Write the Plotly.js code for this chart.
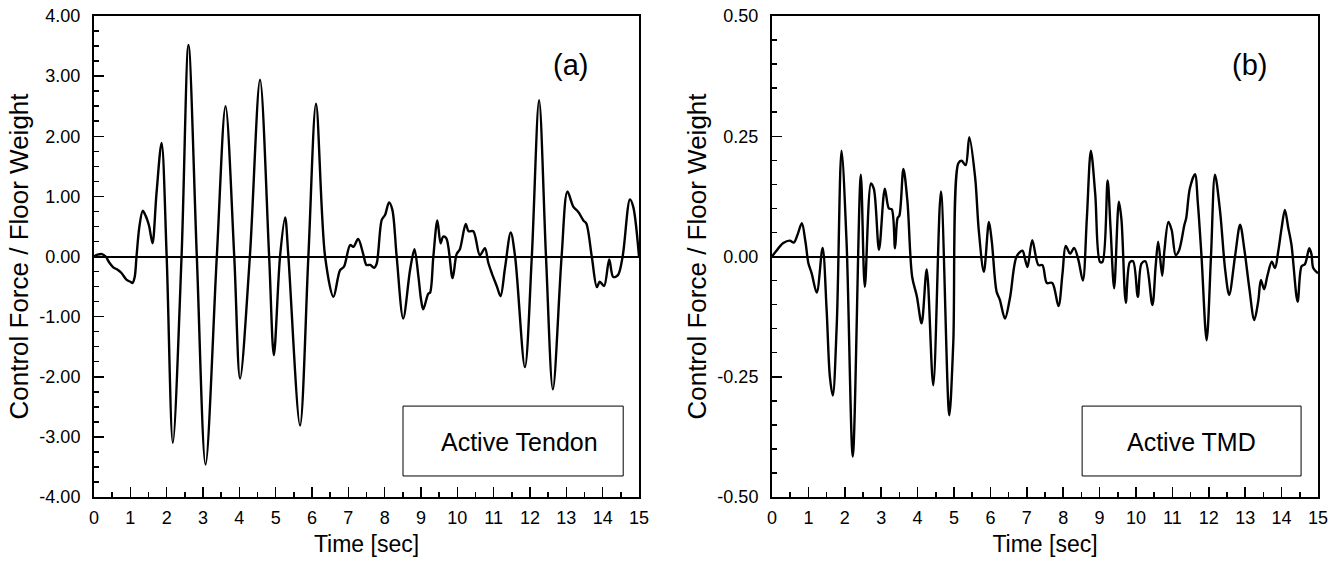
<!DOCTYPE html>
<html>
<head>
<meta charset="utf-8">
<script src="https://cdn.plot.ly/plotly-3.0.1.min.js"></script>
<style>html,body{margin:0;padding:0;background:#fff;}#chart{width:1343px;height:562px;}</style>
</head>
<body>
<div id="chart"></div>
<script>
// Panel (a): Active Tendon
const timeA = [0,0.1,0.22,0.32,0.42,0.53,0.65,0.75,0.9,1.0,1.06,1.12,1.17,1.25,1.34,1.42,1.47,1.52,1.61,1.72,1.86,2.0,2.17,2.41,2.6,2.83,3.07,3.38,3.62,3.86,4.02,4.29,4.57,4.82,4.95,5.12,5.26,5.35,5.67,5.9,6.11,6.36,6.59,6.77,6.88,7.05,7.14,7.27,7.41,7.5,7.6,7.71,7.78,7.92,8.01,8.12,8.21,8.33,8.51,8.7,8.82,8.93,9.0,9.06,9.2,9.25,9.34,9.45,9.54,9.61,9.7,9.87,9.98,10.07,10.23,10.31,10.44,10.62,10.76,10.85,10.95,11.09,11.19,11.31,11.47,11.59,11.86,12.05,12.25,12.44,12.63,12.87,13.03,13.19,13.33,13.47,13.55,13.7,13.84,13.92,14.04,14.18,14.29,14.42,14.55,14.75,14.84,15.0];
const forceA = [0,0.03,0.04,0,-0.1,-0.18,-0.22,-0.27,-0.39,-0.42,-0.44,-0.34,0,0.5,0.76,0.68,0.6,0.5,0.22,1.05,1.89,0,-3.1,0,3.52,0,-3.46,0,2.5,0,-2.03,0,2.94,0,-1.64,0,0.65,0,-2.81,0,2.54,0,-0.67,-0.23,-0.17,0.19,0.16,0.29,0.04,-0.14,-0.14,-0.19,-0.12,0.61,0.69,0.9,0.78,0,-1.03,-0.22,0.12,-0.34,-0.71,-0.88,-0.62,-0.6,0,0.6,0.22,0.33,0.3,-0.36,0.04,0.12,0.54,0.42,0.42,0.02,0.14,-0.1,-0.28,-0.5,-0.66,-0.2,0.4,0,-1.84,0,2.6,0,-2.21,0,1.08,0.83,0.74,0.6,0.55,0,-0.51,-0.42,-0.49,-0.05,-0.34,-0.31,0,0.95,0.83,0];

// Panel (b): Active TMD
const timeB = [0,0.1,0.31,0.49,0.6,0.7,0.82,0.92,1.0,1.09,1.23,1.39,1.5,1.59,1.67,1.78,1.91,2.05,2.22,2.44,2.55,2.72,2.8,2.94,3.1,3.21,3.29,3.38,3.45,3.5,3.61,3.72,3.85,3.98,4.11,4.25,4.43,4.64,4.87,4.98,5.12,5.21,5.32,5.42,5.58,5.68,5.82,5.96,6.04,6.17,6.26,6.4,6.54,6.72,6.88,6.96,7.02,7.15,7.32,7.43,7.55,7.7,7.87,7.98,8.07,8.19,8.3,8.42,8.54,8.65,8.76,8.88,9.01,9.08,9.22,9.3,9.4,9.53,9.6,9.72,9.83,9.92,10.05,10.15,10.26,10.45,10.54,10.61,10.72,10.78,10.89,10.98,11.09,11.18,11.33,11.38,11.48,11.62,11.7,11.8,11.94,12.06,12.17,12.31,12.45,12.56,12.72,12.86,12.98,13.11,13.25,13.36,13.43,13.52,13.61,13.73,13.82,13.91,14.0,14.09,14.18,14.27,14.44,14.55,14.64,14.76,14.82,14.87,15.0];
const forceB = [0,0.01,0.028,0.033,0.029,0.045,0.069,0.03,-0.014,-0.035,-0.075,0.018,-0.11,-0.25,-0.289,-0.14,0.22,0.027,-0.416,0.17,-0.063,0.152,0.14,0.014,0.141,0.1,0.098,0.017,0.08,0.085,0.182,0.115,-0.042,-0.083,-0.139,-0.027,-0.268,0.135,-0.33,-0.18,0.194,0.199,0.19,0.248,0.165,0.055,-0.032,0.072,0.03,-0.073,-0.09,-0.129,-0.085,0,0.012,-0.008,-0.022,0.034,-0.018,-0.018,-0.055,-0.055,-0.103,-0.036,0.022,0.006,0.018,-0.008,-0.05,0.08,0.22,0.13,-0.011,-0.011,0.158,0.06,-0.066,0.114,0.077,-0.096,-0.012,-0.01,-0.084,-0.015,-0.01,-0.101,-0.02,0.031,-0.04,0.012,0.072,0.055,0.003,0.012,0.066,0.08,0.142,0.171,0.11,0,-0.174,0,0.17,0.094,-0.028,-0.08,0,0.066,0.013,-0.064,-0.132,-0.092,-0.049,-0.068,-0.04,-0.011,-0.024,0.012,0.059,0.097,0.061,0.025,-0.094,-0.02,-0.016,0.017,0.005,-0.024,-0.035];

const xTickVals = [0,1,2,3,4,5,6,7,8,9,10,11,12,13,14,15];
const xTickText = ['0','1','2','3','4','5','6','7','8','9','10','11','12','13','14','15'];
const yTickValsA = [-4,-3,-2,-1,0,1,2,3,4];
const yTickTextA = ['-4.00','-3.00','-2.00','-1.00','0.00','1.00','2.00','3.00','4.00'];
const yTickValsB = [-0.5,-0.25,0,0.25,0.5];
const yTickTextB = ['-0.50','-0.25','0.00','0.25','0.50'];
const yTitle = 'Control Force / Floor Weight';
const xTitle = 'Time [sec]';
const panelLabels = ['(a)', '(b)'];
const boxLabels = ['Active Tendon', 'Active TMD'];

const FONT = 'Liberation Sans, Arial, Helvetica, sans-serif';

const traces = [
  {x: timeA, y: forceA, xaxis: 'x', yaxis: 'y', type: 'scatter', mode: 'lines',
   line: {color: '#000', width: 2.4, shape: 'spline', smoothing: 0.9}, hoverinfo: 'skip'},
  {x: timeB, y: forceB, xaxis: 'x2', yaxis: 'y2', type: 'scatter', mode: 'lines',
   line: {color: '#000', width: 2.4, shape: 'spline', smoothing: 0.9}, hoverinfo: 'skip'}
];

function xAxis(domain, anchor) {
  return {
    domain: domain, anchor: anchor, range: [0, 15],
    tickmode: 'array', tickvals: xTickVals, ticktext: xTickText,
    ticks: 'inside', ticklen: 10, tickwidth: 1.5, tickcolor: '#000',
    minor: {dtick: 0.5, tick0: 0, ticks: 'inside', ticklen: 5, tickwidth: 1.5, tickcolor: '#000', showgrid: false},
    showline: true, linewidth: 2, linecolor: '#000', mirror: true,
    showgrid: false, zeroline: false,
    tickfont: {family: FONT, size: 18, color: '#000'},
    ticklabelstandoff: 3,
    title: {text: xTitle, font: {family: FONT, size: 23, color: '#000'}, standoff: 9},
    fixedrange: true
  };
}
function yAxis(domain, anchor, range, vals, text, minorDtick) {
  return {
    domain: domain, anchor: anchor, range: range,
    tickmode: 'array', tickvals: vals, ticktext: text,
    ticks: 'inside', ticklen: 10, tickwidth: 1.5, tickcolor: '#000',
    minor: {dtick: minorDtick, tick0: 0, ticks: 'inside', ticklen: 5, tickwidth: 1.5, tickcolor: '#000', showgrid: false},
    showline: true, linewidth: 2, linecolor: '#000', mirror: true,
    showgrid: false, zeroline: true, zerolinecolor: '#000', zerolinewidth: 2,
    tickfont: {family: FONT, size: 18, color: '#000'},
    ticklabelstandoff: 8,
    title: {text: yTitle, font: {family: FONT, size: 26, color: '#000'}, standoff: 3},
    fixedrange: true
  };
}

const yDom = [1 - 497/562, 1 - 16/562];
const layout = {
  width: 1343, height: 562,
  margin: {l: 0, r: 0, t: 0, b: 0},
  paper_bgcolor: '#fff', plot_bgcolor: '#fff',
  showlegend: false,
  font: {family: FONT, color: '#000'},
  xaxis: xAxis([94/1343, 639/1343], 'y'),
  yaxis: yAxis(yDom, 'x', [-4, 4], yTickValsA, yTickTextA, 0.25),
  xaxis2: xAxis([772/1343, 1318/1343], 'y2'),
  yaxis2: yAxis(yDom, 'x2', [-0.5, 0.5], yTickValsB, yTickTextB, 0.05),
  shapes: [
    {type: 'rect', xref: 'x domain', yref: 'y domain', x0: 0.567, x1: 0.971, y0: 0.0437, y1: 0.189,
     line: {color: '#000', width: 1}, fillcolor: 'rgba(0,0,0,0)'},
    {type: 'rect', xref: 'x2 domain', yref: 'y2 domain', x0: 0.568, x1: 0.969, y0: 0.0437, y1: 0.189,
     line: {color: '#000', width: 1}, fillcolor: 'rgba(0,0,0,0)'}
  ],
  annotations: [
    {xref: 'x domain', yref: 'y domain', x: 0.875, y: 0.898, text: panelLabels[0], showarrow: false,
     font: {family: FONT, size: 29, color: '#000'}, xanchor: 'center', yanchor: 'middle'},
    {xref: 'x2 domain', yref: 'y2 domain', x: 0.875, y: 0.898, text: panelLabels[1], showarrow: false,
     font: {family: FONT, size: 29, color: '#000'}, xanchor: 'center', yanchor: 'middle'},
    {xref: 'x domain', yref: 'y domain', x: 0.78, y: 0.114, text: boxLabels[0], showarrow: false,
     font: {family: FONT, size: 25, color: '#000'}, xanchor: 'center', yanchor: 'middle'},
    {xref: 'x2 domain', yref: 'y2 domain', x: 0.7685, y: 0.114, text: boxLabels[1], showarrow: false,
     font: {family: FONT, size: 25, color: '#000'}, xanchor: 'center', yanchor: 'middle'}
  ]
};

Plotly.newPlot('chart', traces, layout, {staticPlot: true, displayModeBar: false});
</script>
</body>
</html>
